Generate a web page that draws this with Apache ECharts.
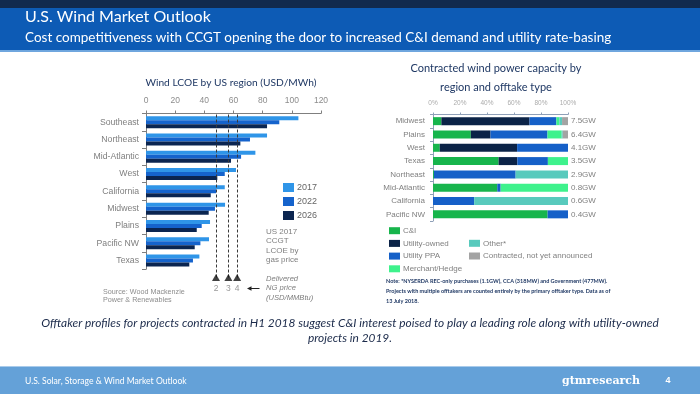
<!DOCTYPE html>
<html><head><meta charset="utf-8">
<script src="https://cdn.jsdelivr.net/npm/echarts@6/dist/echarts.min.js"></script>
<style>html,body{margin:0;padding:0;background:#fff}#c{width:700px;height:394px}</style>
</head><body><div id="c"></div>
<script>
// ---- Left chart: Wind LCOE by US region (USD/MWh)
const lcoeRegions = ['Southeast','Northeast','Mid-Atlantic','West','California','Midwest','Plains','Pacific NW','Texas'];
const lcoe2017 = [104.5, 83, 75, 61.7, 54, 54.2, 43.9, 43.2, 36.6];
const lcoe2022 = [91.4, 71.3, 65.2, 54, 48, 47.3, 38.2, 37.3, 32.2];
const lcoe2026 = [83, 64.7, 58.3, 48.9, 44.4, 43, 34.8, 33.4, 29.7];
const lcoeYears = ['2017','2022','2026'];
const gasPrices = ['2','3','4'];          // USD/MMBtu
const ccgtLcoe = [48, 56.5, 62.5];        // US 2017 CCGT LCOE by gas price

// ---- Right chart: contracted wind capacity by region and offtake type (%)
const capRegions = ['Midwest','Plains','West','Texas','Northeast','Mid-Atlantic','California','Pacific NW'];
const capTotals = ['7.5GW','6.4GW','4.1GW','3.5GW','2.9GW','0.8GW','0.6GW','0.4GW'];
const offtakeTypes = ['C&I','Utility-owned','Utility PPA','Merchant/Hedge','Other*','Contracted, not yet announced'];
const shareCI        = [6.2, 28, 5, 48.6, 0.7, 47.6, 0, 84.9];
const shareUtilOwned = [65.3, 14.6, 57.3, 13.9, 0, 0, 0, 0];
const shareUtilPPA   = [19.9, 42.2, 37.7, 22.6, 60.5, 2.5, 30.5, 15.1];
const shareMerchant  = [2.2, 10.5, 0, 14.9, 0, 49.9, 0, 0];
const shareOther     = [2, 0.8, 0, 0, 38.8, 0, 69.5, 0];
const shareUnannounced = [4.4, 3.9, 0, 0, 0, 0, 0, 0];

const lcoeColors = ['#2F95E8', '#1563CC', '#0B2550'];
const capColors = ['#17B54C', '#0B2347', '#1560C8', '#3EF28C', '#58CABD', '#A3A3A3'];
const capShares = [shareCI, shareUtilOwned, shareUtilPPA, shareMerchant, shareOther, shareUnannounced];

const navy = '#1F3864';
const sans = 'Liberation Sans';
const cal = 'Lato';

const chart = echarts.init(document.getElementById('c'), null, {renderer: 'canvas'});

const series = [];
[lcoe2017, lcoe2022, lcoe2026].forEach((d, i) => {
  series.push({
    name: lcoeYears[i], type: 'bar', xAxisIndex: 0, yAxisIndex: 0,
    data: d, barWidth: 4, barGap: '0%', itemStyle: {color: lcoeColors[i]}, silent: true
  });
});
series.push({
  name: 'ccgt', type: 'scatter', xAxisIndex: 1, yAxisIndex: 1,
  data: ccgtLcoe.map(v => [v, 0]), symbol: 'triangle', symbolSize: [8, 7],
  itemStyle: {color: '#111'}, silent: true,
  label: {show: true, position: 'bottom', distance: 3, color: '#808080', fontSize: 8.5, fontFamily: sans,
    formatter: p => gasPrices[p.dataIndex]},
  markLine: {silent: true, symbol: 'none', label: {show: false},
    lineStyle: {type: [3, 2], color: '#3a3a3a', width: 1},
    data: ccgtLcoe.map(v => ({xAxis: v}))},
  z: 5
});
capShares.forEach((d, i) => {
  series.push({
    name: offtakeTypes[i], type: 'bar', stack: 'cap', xAxisIndex: 2, yAxisIndex: 2,
    data: d, barWidth: 8, itemStyle: {color: capColors[i]}, silent: true
  });
});

const option = {
  backgroundColor: '#fff',
  animation: false,
  grid: [
    {left: 146, width: 175, top: 113.5, height: 155.7},
    {left: 146, width: 175, top: 113.5, height: 164},
    {left: 433, width: 135, top: 114.5, height: 106.5}
  ],
  xAxis: [
    {gridIndex: 0, type: 'value', position: 'top', min: 0, max: 120, interval: 20,
      axisLine: {show: true, lineStyle: {color: '#7f7f7f'}},
      axisTick: {show: true, length: 3, lineStyle: {color: '#7f7f7f'}},
      axisLabel: {color: '#8c8c8c', fontSize: 8.5, fontFamily: sans, margin: 8},
      splitLine: {show: false}},
    {gridIndex: 1, type: 'value', min: 0, max: 120, show: false},
    {gridIndex: 2, type: 'value', position: 'top', min: 0, max: 100, interval: 20,
      axisLine: {show: true, lineStyle: {color: '#8fa0b8'}},
      axisTick: {show: true, length: 2, lineStyle: {color: '#8fa0b8'}},
      axisLabel: {color: '#ababab', fontSize: 6.5, fontFamily: sans, margin: 8, formatter: '{value}%'},
      splitLine: {show: false}}
  ],
  yAxis: [
    {gridIndex: 0, type: 'category', data: lcoeRegions, inverse: true,
      axisLine: {show: true, lineStyle: {color: '#7f7f7f'}},
      axisTick: {show: true, length: 4, lineStyle: {color: '#7f7f7f'}},
      axisLabel: {color: '#7f7f7f', fontSize: 8.7, fontFamily: sans, margin: 7}},
    {gridIndex: 1, type: 'value', min: 0, max: 1, show: false},
    {gridIndex: 2, type: 'category', data: capRegions, inverse: true,
      axisLine: {show: true, lineStyle: {color: '#8fa0b8'}},
      axisTick: {show: true, length: 3, lineStyle: {color: '#8fa0b8'}},
      axisLabel: {color: '#808080', fontSize: 8, fontFamily: sans, margin: 8}},
    {gridIndex: 2, type: 'category', data: capTotals, inverse: true, position: 'right',
      axisLine: {show: false}, axisTick: {show: false},
      axisLabel: {color: '#808080', fontSize: 8, fontFamily: sans, margin: 3}}
  ],
  legend: [
    {data: lcoeYears, orient: 'vertical', left: 283, top: 183, itemWidth: 11, itemHeight: 9, itemGap: 5,
      icon: 'rect', selectedMode: false, padding: 0,
      textStyle: {color: '#666', fontSize: 9, lineHeight: 9, fontFamily: sans, padding: [0, 0, 0, -2]}},
    {data: offtakeTypes.slice(0, 4), orient: 'vertical', left: 389, top: 226.7, itemWidth: 11, itemHeight: 7, itemGap: 4.7,
      icon: 'rect', selectedMode: false, padding: 0,
      textStyle: {color: '#808080', fontSize: 8, lineHeight: 8, fontFamily: sans, padding: [0, 0, 0, -2]}},
    {data: offtakeTypes.slice(4), orient: 'vertical', left: 469, top: 239.3, itemWidth: 11, itemHeight: 7, itemGap: 4.7,
      icon: 'rect', selectedMode: false, padding: 0,
      textStyle: {color: '#808080', fontSize: 8, lineHeight: 8, fontFamily: sans, padding: [0, 0, 0, -2]}}
  ],
  graphic: [
    {type: 'rect', shape: {x: 0, y: 0, width: 700, height: 8}, style: {fill: '#112A4E'}, silent: true},
    {type: 'rect', shape: {x: 0, y: 8, width: 700, height: 42}, style: {fill: '#0D5BB5'}, silent: true},
    {type: 'rect', shape: {x: 0, y: 50, width: 700, height: 2}, style: {fill: '#6FA6DE'}, silent: true},
    {type: 'text', x: 25, y: 17, style: {text: 'U.S. Wind Market Outlook', fill: '#fff', font: '16px ' + cal, textVerticalAlign: 'middle'}, silent: true},
    {type: 'text', x: 25, y: 38, style: {text: 'Cost competitiveness with CCGT opening the door to increased C&I demand and utility rate-basing', fill: '#fff', font: '13.5px ' + cal, textVerticalAlign: 'middle'}, silent: true},

    {type: 'text', x: 231, y: 83, style: {text: 'Wind LCOE by US region (USD/MWh)', fill: navy, font: '10.2px ' + cal, textAlign: 'center', textVerticalAlign: 'middle'}, silent: true},
    {type: 'text', x: 496, y: 68, style: {text: 'Contracted wind power capacity by', fill: navy, font: '11px ' + cal, textAlign: 'center', textVerticalAlign: 'middle'}, silent: true},
    {type: 'text', x: 496, y: 87, style: {text: 'region and offtake type', fill: navy, font: '11px ' + cal, textAlign: 'center', textVerticalAlign: 'middle'}, silent: true},

    {type: 'text', x: 266, y: 227, style: {text: 'US 2017\nCCGT\nLCOE by\ngas price', fill: '#7f7f7f', font: '8px ' + sans, lineHeight: 9.5}, silent: true},
    {type: 'text', x: 266, y: 274.4, style: {text: 'Delivered\nNG price\n(USD/MMBtu)', fill: '#7f7f7f', font: 'italic 7.6px ' + sans, lineHeight: 9.2}, silent: true},
    {type: 'line', shape: {x1: 250, y1: 288.5, x2: 259.5, y2: 288.5}, style: {stroke: '#222', lineWidth: 1}, silent: true},
    {type: 'polygon', shape: {points: [[247, 288.5], [251.5, 286.3], [251.5, 290.7]]}, style: {fill: '#222'}, silent: true},
    {type: 'text', x: 103, y: 287.7, style: {text: 'Source: Wood Mackenzie\nPower & Renewables', fill: '#8c8c8c', font: '7.2px ' + sans, lineHeight: 8.5}, silent: true},

    {type: 'text', x: 386, y: 276, style: {text: 'Note: *NYSERDA REC-only purchases (1.1GW), CCA (318MW) and Government (477MW).\nProjects with multiple offtakers are counted entirely by the primary offtaker type. Data as of\n13 July 2018.', fill: navy, font: 'bold 5.5px ' + cal, lineHeight: 10}, silent: true},

    {type: 'text', x: 350, y: 323, style: {text: 'Offtaker profiles for projects contracted in H1 2018 suggest C&I interest poised to play a leading role along with utility-owned', fill: '#1B2A4A', font: 'italic 11.9px ' + cal, textAlign: 'center', textVerticalAlign: 'middle'}, silent: true},
    {type: 'text', x: 350, y: 338, style: {text: 'projects in 2019.', fill: '#1B2A4A', font: 'italic 11.9px ' + cal, textAlign: 'center', textVerticalAlign: 'middle'}, silent: true},

    {type: 'rect', shape: {x: 0, y: 367, width: 700, height: 27}, style: {fill: '#64A1D8'}, silent: true},
    {type: 'rect', shape: {x: 0, y: 366, width: 700, height: 1}, style: {fill: '#A9CBEB'}, silent: true},
    {type: 'text', x: 25, y: 381, style: {text: 'U.S. Solar, Storage & Wind Market Outlook', fill: '#fff', font: '8.6px ' + cal, textVerticalAlign: 'middle'}, silent: true},
    {type: 'text', x: 640, y: 381, style: {text: 'gtmresearch', fill: '#fff', font: 'bold 11px DejaVu Serif', textAlign: 'right', textVerticalAlign: 'middle'}, silent: true},
    {type: 'text', x: 668, y: 381, style: {text: '4', fill: '#fff', font: 'bold 9px ' + sans, textAlign: 'center', textVerticalAlign: 'middle'}, silent: true}
  ],
  series: series
};
chart.setOption(option);
</script>
</body></html>
